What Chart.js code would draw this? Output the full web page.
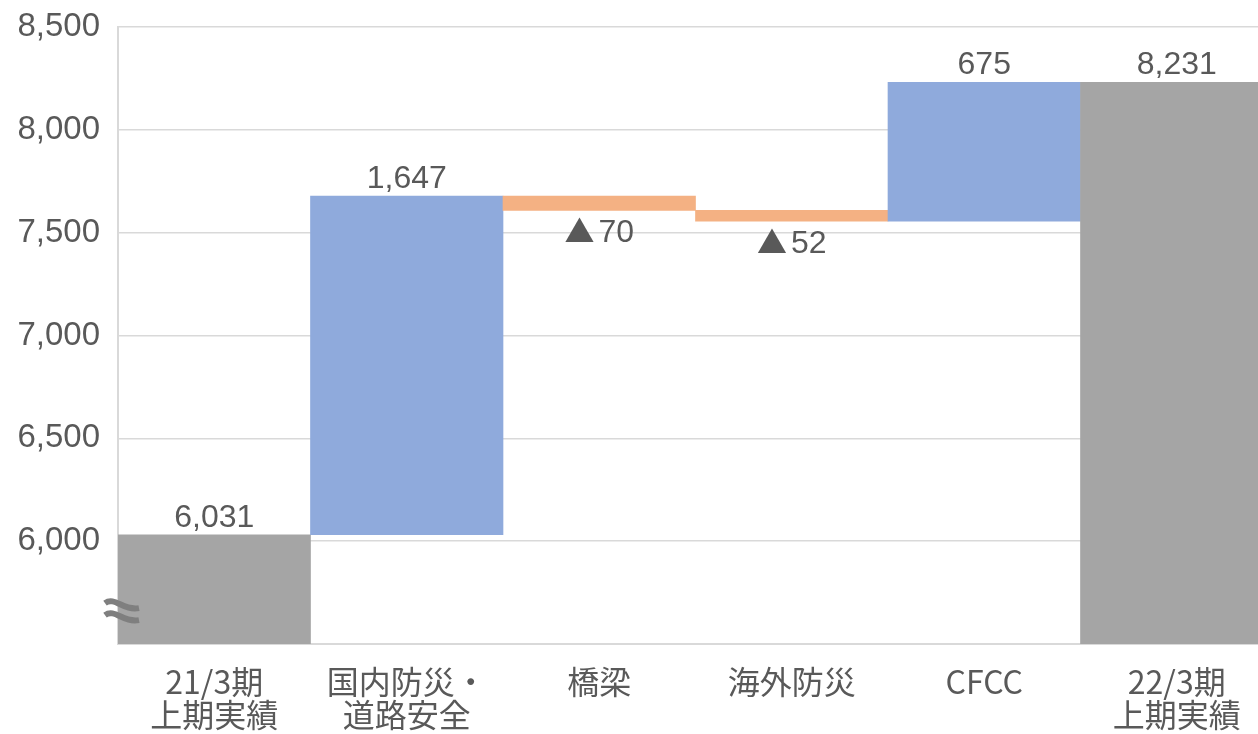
<!DOCTYPE html>
<html>
<head>
<meta charset="utf-8">
<script src="https://cdn.jsdelivr.net/npm/chart.js@4.4.1/dist/chart.umd.min.js"></script>
<style>
  html, body { margin: 0; padding: 0; background: #fff; overflow: hidden; }
  #wrap { width: 1273px; height: 734px; }
</style>
</head>
<body>
<div id="wrap"><canvas id="myChart"></canvas></div>
<script>
// 売上の増減（単位：百万円）
const categories = [['21/3期', '上期実績'], ['国内防災・', '道路安全'], '橋梁', '海外防災', 'CFCC', ['22/3期', '上期実績']];
const changes = [6031, 1647, -70, -52, 675, 8231];
const isTotal = [true, false, false, false, false, true];
const yTicks = [5500, 6000, 6500, 7000, 7500, 8000, 8500];
const axisBase = 5500;

const numFont = "'Liberation Sans', Arial, sans-serif";
const jpFont = "'Noto Sans CJK JP', sans-serif";
const textColor = '#595959';

// ウォーターフォール用の浮動バーを作る
let running = 0;
const floating = changes.map((v, i) => {
  if (isTotal[i]) {
    running = v;
    return [axisBase, v];
  }
  const start = running;
  running += v;
  return [start, running];
});
const colors = changes.map((v, i) => isTotal[i] ? '#A5A5A5' : (v >= 0 ? '#8FAADC' : '#F4B183'));

// 値ラベルと軸の省略記号
const labelPlugin = {
  id: 'labels',
  afterDatasetsDraw(chart) {
    const ctx = chart.ctx;
    const meta = chart.getDatasetMeta(0);
    ctx.save();
    ctx.fillStyle = textColor;
    meta.data.forEach((bar, i) => {
      const v = changes[i];
      const top = Math.min(bar.y, bar.base);
      const bottom = Math.max(bar.y, bar.base);
      const txt = Math.abs(v).toLocaleString('en-US');
      if (v < 0) {
        // ▲はCJKフォントで大きめに
        const gap = 4;
        ctx.textBaseline = 'alphabetic';
        ctx.font = '32px ' + numFont;
        const wNum = ctx.measureText(txt).width;
        ctx.font = '30px ' + jpFont;
        const wTri = ctx.measureText('▲').width;
        const x0 = bar.x - (wTri + gap + wNum) / 2;
        const base = bottom + 32;
        ctx.textAlign = 'left';
        ctx.fillText('▲', x0, base);
        ctx.font = '32px ' + numFont;
        ctx.fillText(txt, x0 + wTri + gap, base);
      } else {
        ctx.textAlign = 'center';
        ctx.textBaseline = 'bottom';
        ctx.font = '32px ' + numFont;
        ctx.fillText(txt, bar.x, top - 1);
      }
    });
    // 軸の省略記号（波線2本）
    const y = chart.scales.y.getPixelForValue(5660);
    const x = chart.scales.x.left + 5;
    ctx.strokeStyle = '#7F7F7F';
    ctx.lineWidth = 6;
    [-6, 6].forEach(d => {
      ctx.beginPath();
      ctx.moveTo(x - 18, y + d - 2);
      ctx.bezierCurveTo(x - 8, y + d - 9, x, y + d + 6, x + 16, y + d + 3);
      ctx.stroke();
    });
    ctx.restore();
  }
};

const ctx = document.getElementById('myChart');
new Chart(ctx, {
  type: 'bar',
  data: {
    labels: categories,
    datasets: [{
      data: floating,
      backgroundColor: colors,
      borderWidth: 0,
      barPercentage: 1,
      categoryPercentage: 1
    }]
  },
  options: {
    responsive: true,
    maintainAspectRatio: false,
    animation: false,
    layout: { padding: { top: 27, right: 0, left: 0, bottom: 0 } },
    plugins: {
      legend: { display: false },
      tooltip: { enabled: false }
    },
    scales: {
      x: {
        grid: { display: false, drawTicks: false },
        border: { color: '#D9D9D9', width: 2 },
        ticks: {
          color: textColor,
          padding: 21,
          maxRotation: 0,
          autoSkip: false,
          font: { family: jpFont, size: 32, lineHeight: 1.03 }
        },
        afterFit: s => { s.height = 90; s.paddingLeft = 0; s.paddingRight = 0; }
      },
      y: {
        min: yTicks[0],
        max: yTicks[yTicks.length - 1],
        afterBuildTicks: s => { s.ticks = yTicks.map(v => ({ value: v })); },
        grid: { color: '#D9D9D9', lineWidth: 1.5, drawTicks: false },
        border: { color: '#D9D9D9', width: 2 },
        ticks: {
          color: textColor,
          padding: 18,
          font: { family: numFont, size: 33 },
          callback: v => v === axisBase ? '' : v.toLocaleString('en-US')
        },
        afterFit: s => { s.width = 118; s.paddingTop = 0; s.paddingBottom = 0; }
      }
    }
  },
  plugins: [labelPlugin]
});
</script>
</body>
</html>
